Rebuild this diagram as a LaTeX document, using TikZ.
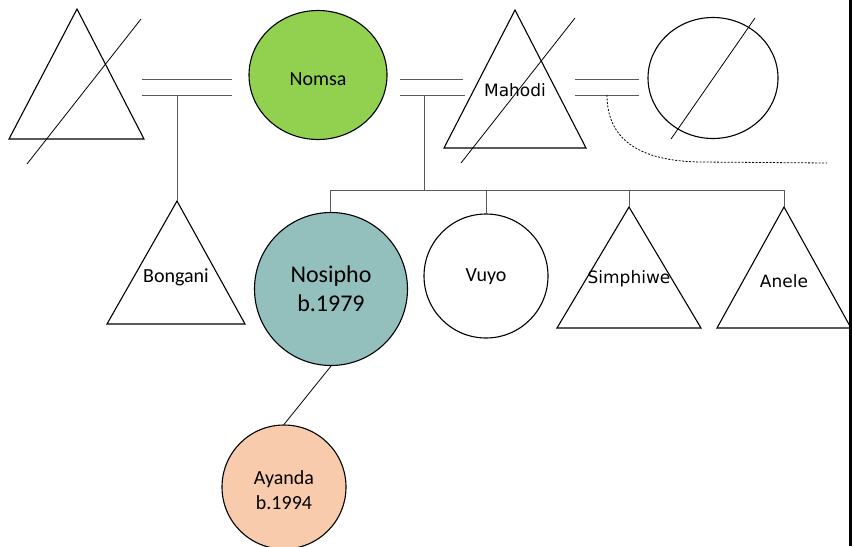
\documentclass[tikz,border=0pt]{standalone}
\usepackage{fontspec}
\setmainfont{Carlito}
\newfontfamily\dejavu{DejaVu Sans}
\usetikzlibrary{shapes.geometric}

\definecolor{nomsagreen}{RGB}{146,208,80}
\definecolor{nosiphoteal}{RGB}{147,191,189}
\definecolor{ayandapeach}{RGB}{248,203,173}

\begin{document}
\begin{tikzpicture}[x=1pt,y=-1pt,
  outline/.style={draw=black, line width=1.1pt},
  female/.style={outline, ellipse, inner sep=0pt, align=center,
    font=\fontsize{20}{24}\selectfont},
  male/.style={outline, line join=miter},
  mlabel/.style={inner sep=0pt, font=\fontsize{20}{24}\selectfont},
  dvlabel/.style={inner sep=0pt, font=\dejavu\fontsize{17}{20}\selectfont},
  link/.style={draw=black!65, line width=1pt},
  deceased/.style={draw=black, line width=0.8pt},
  exlink/.style={draw=black, line width=0.8pt, dash pattern=on 2pt off 1.5pt},
]
\useasboundingbox (0,0) rectangle (853,546);

% ---------- first generation ----------
% unnamed husband of Nomsa (deceased)
\coordinate (hus1) at (77,9);
\draw[male] (hus1) -- (9,139) -- (144,139) -- cycle;
\draw[deceased] (141,19) -- (27,164);

% Nomsa
\node[female, fill=nomsagreen, minimum width=138pt, minimum height=129pt]
  (nomsa) at (318,75) {};
\node[mlabel] (nomsalbl) at (318,79) {Nomsa};

% Mahodi (deceased)
\coordinate (mahodi) at (515,10);
\draw[male] (mahodi) -- (444,148) -- (586,148) -- cycle;
\draw[deceased] (575,18) -- (461,163);
\node[dvlabel] (mahodilbl) at (515,90) {Mahodi};

% Mahodi's other partner (deceased)
\node[female, minimum width=130pt, minimum height=121pt]
  (wife2) at (713,78) {};
\draw[deceased] (755,18) -- (671,139);

% ---------- marriage lines ----------
\coordinate (m1a) at (142,79);  \coordinate (m1b) at (232,79);
\coordinate (m1c) at (142,95);  \coordinate (m1d) at (232,95);
\draw[link] (m1a) -- (m1b);
\draw[link] (m1c) -- (m1d);

\coordinate (m2a) at (400,79);  \coordinate (m2b) at (463,79);
\coordinate (m2c) at (400,95);  \coordinate (m2d) at (465,95);
\draw[link] (m2a) -- (m2b);
\draw[link] (m2c) -- (m2d);

\coordinate (m3a) at (575,79);  \coordinate (m3b) at (639,79);
\coordinate (m3c) at (575,95);  \coordinate (m3d) at (639,95);
\draw[link] (m3a) -- (m3b);
\draw[link] (m3c) -- (m3d);

% dotted trail from the second marriage
\coordinate (trail0) at (607,95);
\coordinate (trail1) at (827,163);
\draw[exlink] (trail0) .. controls (607,140) and (640,161) .. (700,162) -- (trail1);

% ---------- second generation ----------
% Bongani
\coordinate (bongani) at (177,201);
\draw[male] (bongani) -- (107,324) -- (245,324) -- cycle;
\node[mlabel] (bonganilbl) at (176,277) {Bongani};
\coordinate (drop1) at (177,95);
\draw[link] (drop1) -- (bongani);

% sibship of Nomsa and Mahodi
\coordinate (drop2) at (424,95);
\coordinate (sibj) at (424,190);
\coordinate (sibl) at (330,190);
\coordinate (sibr) at (785,190);
\draw[link] (drop2) -- (sibj);
\draw[link] (sibl) -- (sibr);

% Nosipho
\node[female, circle, fill=nosiphoteal, minimum size=153pt,
  font=\fontsize{24}{29}\selectfont] (nosipho) at (331,289) {Nosipho\\b.1979};

% Vuyo
\node[female, circle, minimum size=124pt] (vuyo) at (486,276) {};
\node[mlabel] (vuyolbl) at (486,277) {Vuyo};

% Simphiwe
\coordinate (simphiwe) at (629,207);
\draw[male] (simphiwe) -- (557,328) -- (701,328) -- cycle;
\node[dvlabel] (simphiwelbl) at (629,279) {Simphiwe};

% Anele
\coordinate (anele) at (784,207);
\draw[male] (anele) -- (717,328) -- (851,328) -- cycle;
\node[dvlabel] (anelelbl) at (784,281) {Anele};

\draw[link] (nosipho.north -| sibl) -- (sibl);
\draw[link] (vuyo.north) -- (vuyo.north |- sibl);
\draw[link] (simphiwe) -- (simphiwe |- sibl);
\draw[link] (anele) -- (anele |- sibl);

% ---------- third generation ----------
\node[female, circle, fill=ayandapeach, minimum size=124pt]
  (ayanda) at (284,487) {};
\node[inner sep=0pt, align=center, font=\fontsize{20}{25}\selectfont]
  (ayandalbl) at (284,490) {Ayanda\\b.1994};
\draw[deceased] (nosipho.south) -- (ayanda.north);

% right border
\fill[black] (849,0) rectangle (852,546);
\end{tikzpicture}
\end{document}
